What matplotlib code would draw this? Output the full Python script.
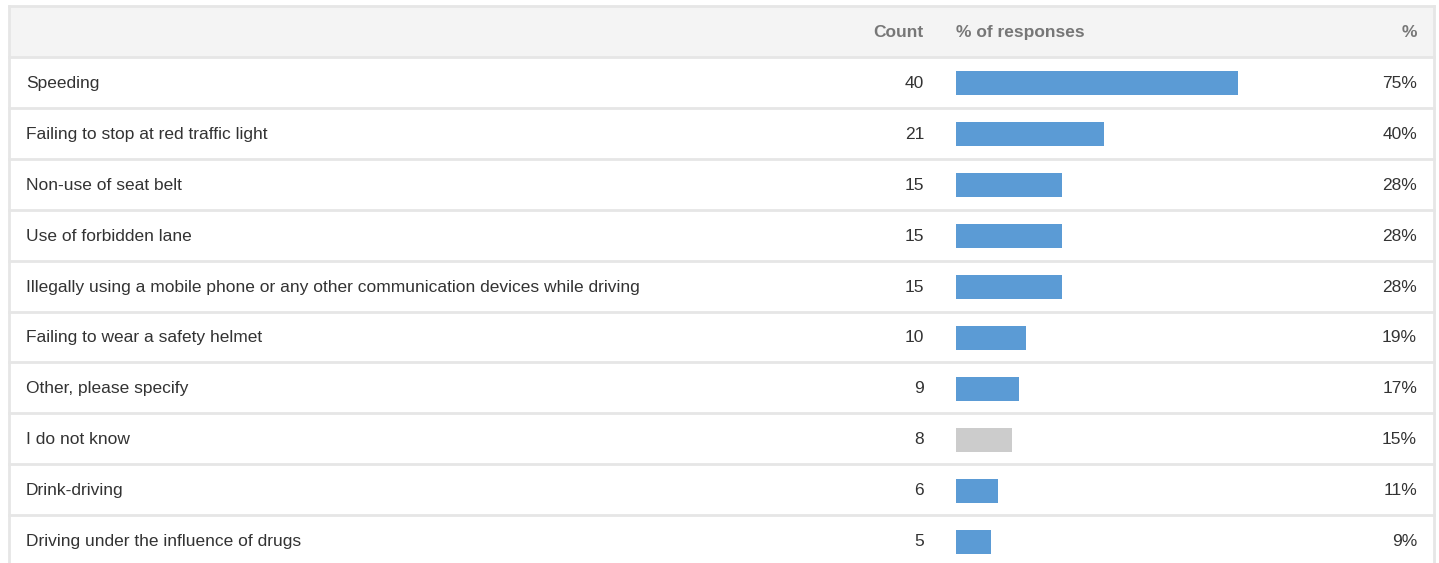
import matplotlib.pyplot as plt
import numpy as np

labels = [
    "Speeding",
    "Failing to stop at red traffic light",
    "Non-use of seat belt",
    "Use of forbidden lane",
    "Illegally using a mobile phone or any other communication devices while driving",
    "Failing to wear a safety helmet",
    "Other, please specify",
    "I do not know",
    "Drink-driving",
    "Driving under the influence of drugs",
]
counts = [40, 21, 15, 15, 15, 10, 9, 8, 6, 5]
pct_labels = ["75%", "40%", "28%", "28%", "28%", "19%", "17%", "15%", "11%", "9%"]
respondents = 53
is_neutral = [False, False, False, False, False, False, False, True, False, False]
headers = ["Count", "% of responses", "%"]

W, H = 1439, 563
row_h = 50.9
top = 57  # pixel y of first row top
blue = "#5b9bd5"
grey_bar = "#cccccc"
line_c = "#e6e6e6"
txt_c = "#333333"
head_c = "#777777"

plt.rcParams['font.family'] = ['Liberation Sans', 'DejaVu Sans']

fig = plt.figure(figsize=(W / 100, H / 100), dpi=100)
ax = fig.add_axes([0, 0, 1, 1])
ax.set_xlim(0, W)
y_top = -top / row_h
y_bot = (H - top) / row_h
ax.set_ylim(y_bot, y_top)
ax.axis("off")

n = len(labels)
# header background
ax.fill_between([9, 1434], -1, 0, color="#f4f4f4", lw=0, zorder=0)
# borders
ax.plot([9, 9], [-1, y_bot], color=line_c, lw=2, zorder=1)
ax.plot([1434, 1434], [-1, y_bot], color=line_c, lw=2, zorder=1)
ax.plot([9, 1434], [-1, -1], color=line_c, lw=2, zorder=1)
for i in range(n):
    ax.plot([9, 1434], [i, i], color=line_c, lw=2, zorder=1)

fs = 12.5
dy = 0.02
ax.text(924, -0.5 + dy, headers[0], ha="right", va="center", fontsize=fs,
        color=head_c, fontweight="bold")
ax.text(956, -0.5 + dy, headers[1], ha="left", va="center", fontsize=fs,
        color=head_c, fontweight="bold")
ax.text(1417, -0.5 + dy, headers[2], ha="right", va="center", fontsize=fs,
        color=head_c, fontweight="bold")

for i in range(n):
    yc = i + 0.5 + dy
    ax.text(26, yc, labels[i], ha="left", va="center", fontsize=fs, color=txt_c)
    ax.text(924, yc, str(counts[i]), ha="right", va="center", fontsize=fs, color=txt_c)
    ax.text(1417, yc, pct_labels[i], ha="right", va="center", fontsize=fs, color=txt_c)

# bars on their own axes, x in percent
bax = fig.add_axes([956 / W, 0, 373 / W, 1])
bax.set_xlim(0, 100)
bax.set_ylim(y_bot, y_top)
bax.axis("off")
pct = np.array(counts) / respondents * 100
colors = [grey_bar if g else blue for g in is_neutral]
bax.barh(np.arange(n) + 0.52, pct, height=24 / row_h, color=colors, left=0)

fig.savefig("out.png", dpi=100)
